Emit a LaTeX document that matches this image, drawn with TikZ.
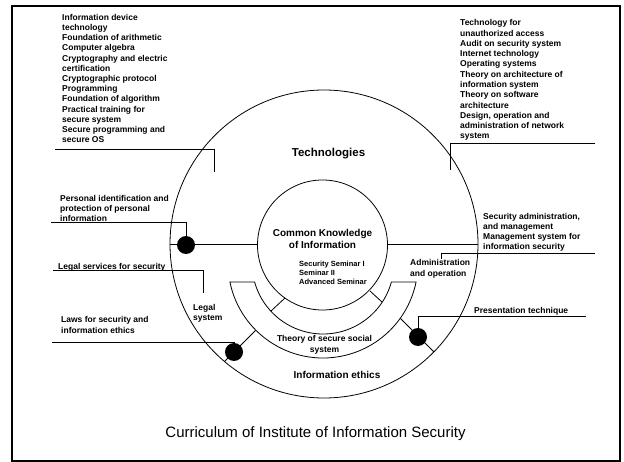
\documentclass[tikz,border=0pt]{standalone}
\usepackage{fontspec}
\setmainfont{Liberation Sans}
\usetikzlibrary{calc}
\begin{document}
\begin{tikzpicture}[x=1pt,y=-1pt,
  ln/.style={line width=0.8pt},
  lbl/.style={font=\bfseries\fontsize{8.5}{10.2}\selectfont, align=left, inner sep=0pt, anchor=north west},
  ctr/.style={font=\bfseries, align=center, inner sep=0pt},
  dot/.style={circle, fill=black, inner sep=0pt, minimum size=18pt}]
\useasboundingbox (0,0) rectangle (624,462);
\draw[line width=2.5pt] (12,6) rectangle (620,461);
% centres
\coordinate (oc) at (324,244);
\coordinate (ic) at (322.5,245);
\coordinate (bc) at (323,263);
% circles and band
\draw[ln] (oc) circle[radius=154pt];
\draw[ln] (ic) circle[radius=65pt];
\draw[ln] ($(bc)+(191.5:95pt)$) arc[start angle=191.5, end angle=348.5, radius=95pt]
  -- ($(bc)+(-15.5:71pt)$) arc[start angle=-15.5, end angle=-164.5, radius=71pt] -- cycle;
% horizontal diameter pieces
\coordinate (hA) at (170,244); \coordinate (hB) at (257.5,244);
\coordinate (hC) at (387.5,244); \coordinate (hD) at (478,244);
\draw[ln] (hA) -- (hB);
\draw[ln] (hC) -- (hD);
% spokes
\coordinate (s1a) at (285,298); \coordinate (s1b) at (271,311);
\coordinate (s2a) at (370,291); \coordinate (s2b) at (382,302);
\coordinate (s3a) at (255.5,330.5); \coordinate (s3b) at (224.5,361.5);
\coordinate (s4a) at (400.5,318.5); \coordinate (s4b) at (434,352);
\draw[ln] (s1a) -- (s1b);
\draw[ln] (s2a) -- (s2b);
\draw[ln] (s3a) -- (s3b);
\draw[ln] (s4a) -- (s4b);
% dots
\node[dot] (d1) at (186,245) {};
\node[dot] (d2) at (234,352) {};
\node[dot] (d3) at (418,337) {};
% label connectors
\coordinate (a1) at (55,149); \coordinate (a2) at (214,172);
\draw[ln] (a1) -| (a2);
\coordinate (b1) at (595,143); \coordinate (b2) at (450,170);
\draw[ln] (b1) -| (b2);
\coordinate (c1) at (51,222);
\draw[ln] (c1) -| (d1);
\coordinate (e1) at (53,270); \coordinate (e2) at (203,293);
\draw[ln] (e1) -| (e2);
\coordinate (f1) at (52,342);
\draw[ln] (f1) -| (d2);
\coordinate (g1) at (595,253); \coordinate (g2) at (441,259);
\draw[ln] (g1) -| (g2);
\coordinate (h1) at (586,316);
\draw[ln] (h1) -| (d3);
% texts
\node[lbl] (tl) at (62,14) {Information device\\technology\\Foundation of arithmetic\\Computer algebra\\Cryptography and electric\\certification\\Cryptographic protocol\\Programming\\Foundation of algorithm\\Practical training for\\secure system\\Secure programming and\\secure OS};
\node[lbl, font=\bfseries\fontsize{8.5}{10.27}\selectfont] (tr) at (460,19.5) {Technology for\\unauthorized access\\Audit on security system\\Internet technology\\Operating systems\\Theory on architecture of\\information system\\Theory on software\\architecture\\Design, operation and\\administration of network\\system};
\node[lbl] (pi) at (60,195) {Personal identification and\\protection of personal\\information};
\node[lbl] (ls) at (58,263) {Legal services for security};
\node[lbl] (lw) at (61,316.5) {Laws for security and\\information ethics};
\node[lbl] (lg) at (193,304) {Legal\\system};
\node[lbl, font=\bfseries\fontsize{8.5}{11.4}\selectfont] (ad) at (410,259) {Administration\\and operation};
\node[lbl] (sa) at (483,213) {Security administration,\\and management\\Management system for\\information security};
\node[lbl] (pt) at (474,307) {Presentation technique};
\node[lbl, font=\bfseries\fontsize{7.5}{9}\selectfont] (sem) at (299,260.5) {Security Seminar I\\Seminar II\\Advanced Seminar};
\node[ctr, font=\bfseries\fontsize{10}{11.6}\selectfont, anchor=north] (ck) at (322.5,229) {Common Knowledge\\of Information};
\node[ctr, font=\bfseries\fontsize{11.5}{13}\selectfont] (tech) at (328.5,154) {Technologies};
\node[ctr, font=\bfseries\fontsize{8.5}{11}\selectfont, anchor=north] (th) at (324.5,335) {Theory of secure social\\system};
\node[ctr, font=\bfseries\fontsize{10}{12}\selectfont] (ie) at (337,375) {Information ethics};
\node[inner sep=0pt, font=\fontsize{15}{18}\selectfont] (cap) at (315.5,433.5) {Curriculum of Institute of Information Security};
\end{tikzpicture}
\end{document}
